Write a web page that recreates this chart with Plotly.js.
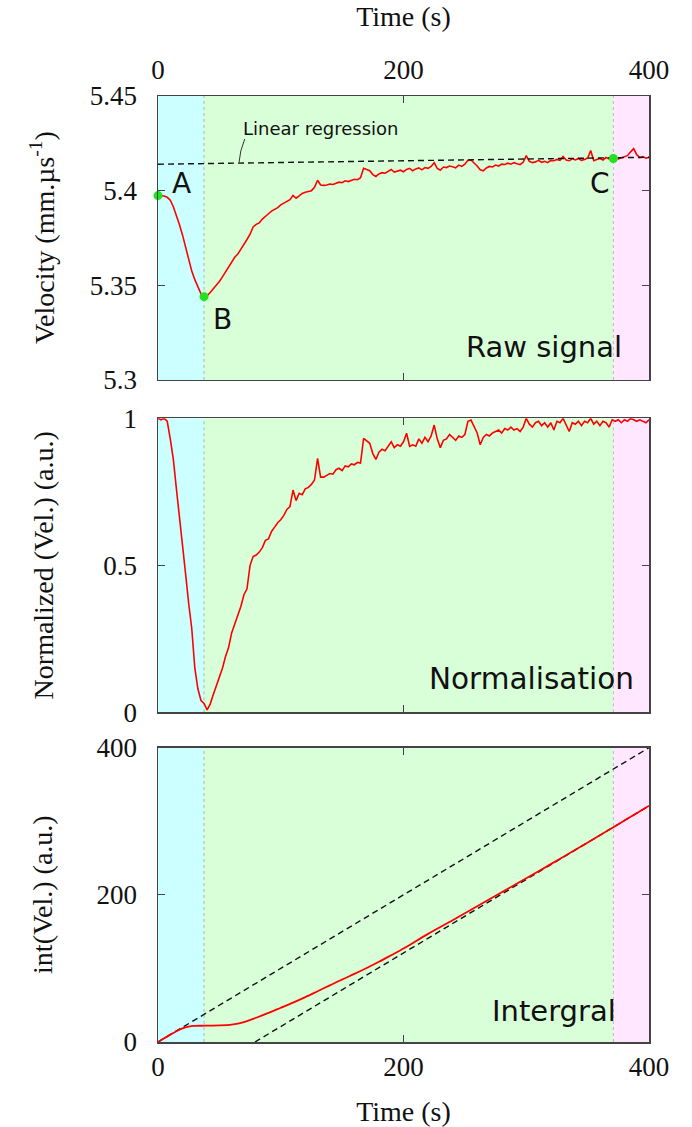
<!DOCTYPE html>
<html>
<head>
<meta charset="utf-8">
<script src="https://cdn.plot.ly/plotly-3.0.1.min.js"></script>
<style>html,body{margin:0;padding:0;background:#fff;}#chart{width:692px;height:1127px;}</style>
</head>
<body>
<div id="chart"></div>
<script>
// ---------- data ----------
// time axis (s) for the raw and normalised signals, 2.5 s step
var timeSignal = [];
for (var i = 0; i <= 160; i++) timeSignal.push(i * 2.5);

// raw velocity (mm/us)
var velocityRaw = [
5.3974,5.3975,5.3972,5.3965,5.3950,5.3915,5.3870,5.3820,5.3765,5.3700,
5.3625,5.3575,5.3530,5.3490,5.3455,5.3440,5.3445,5.3462,5.3480,5.3500,
5.3520,5.3545,5.3572,5.3598,5.3620,5.3648,5.3665,5.3690,5.3712,5.3742,
5.3770,5.3808,5.3822,5.3830,5.3850,5.3862,5.3878,5.3892,5.3902,5.3910,
5.3925,5.3935,5.3942,5.3952,5.3975,5.3960,5.3972,5.3985,5.3992,5.3998,
5.4000,5.4018,5.4055,5.4030,5.4028,5.4030,5.4035,5.4033,5.4040,5.4045,
5.4042,5.4052,5.4048,5.4055,5.4060,5.4058,5.4068,5.4118,5.4110,5.4105,
5.4085,5.4075,5.4088,5.4095,5.4092,5.4100,5.4112,5.4098,5.4104,5.4108,
5.4100,5.4112,5.4118,5.4105,5.4115,5.4120,5.4110,5.4122,5.4118,5.4128,
5.4148,5.4118,5.4108,5.4125,5.4122,5.4130,5.4126,5.4120,5.4135,5.4128,
5.4140,5.4160,5.4162,5.4148,5.4130,5.4110,5.4105,5.4120,5.4128,5.4125,
5.4135,5.4130,5.4140,5.4138,5.4145,5.4140,5.4148,5.4142,5.4138,5.4150,
5.4185,5.4155,5.4148,5.4152,5.4160,5.4150,5.4155,5.4148,5.4160,5.4158,
5.4165,5.4160,5.4180,5.4162,5.4158,5.4168,5.4162,5.4170,5.4160,5.4165,
5.4172,5.4212,5.4158,5.4165,5.4170,5.4162,5.4175,5.4168,5.4170,5.4172,
5.4168,5.4175,5.4180,5.4185,5.4205,5.4222,5.4190,5.4175,5.4180,5.4172,
5.4175
];

// normalised velocity (a.u.)
var velocityNorm = [
1.000,0.995,1.000,0.990,0.930,0.860,0.760,0.670,0.570,0.470,
0.370,0.285,0.150,0.080,0.040,0.030,0.008,0.028,0.060,0.090,
0.120,0.150,0.190,0.220,0.270,0.300,0.330,0.360,0.400,0.420,
0.500,0.530,0.535,0.545,0.560,0.585,0.590,0.615,0.630,0.645,
0.655,0.670,0.690,0.700,0.756,0.720,0.745,0.740,0.760,0.765,
0.775,0.790,0.864,0.800,0.800,0.805,0.812,0.810,0.825,0.830,
0.822,0.838,0.835,0.845,0.842,0.850,0.848,0.932,0.925,0.915,
0.880,0.860,0.885,0.895,0.890,0.905,0.920,0.900,0.910,0.905,
0.920,0.949,0.905,0.910,0.905,0.930,0.915,0.935,0.920,0.940,
0.977,0.930,0.900,0.925,0.930,0.945,0.935,0.925,0.940,0.935,
0.945,0.990,0.994,0.970,0.950,0.910,0.935,0.945,0.940,0.950,
0.955,0.960,0.950,0.965,0.960,0.970,0.960,0.965,0.955,0.970,
1.000,0.980,0.970,0.985,0.990,0.975,0.985,0.970,0.985,0.960,
0.990,0.985,1.000,0.980,0.955,0.985,0.980,0.990,0.975,0.990,
0.985,1.000,0.980,0.990,0.975,0.990,0.985,0.970,0.995,0.990,
0.995,0.985,0.995,0.990,1.000,0.995,0.990,0.995,0.990,0.985,
0.995
];

// integral of the normalised velocity (a.u.)
var timeIntegral = [0,5,10,15,20,25,30,35,40,50,60,70,80,90,100,110,120,130,140,150,160,170,180,190,200,220,240,260,280,300,320,340,360,371,380,390,400];
var velocityIntegral = [0,5,10,14.6,18.5,20.8,21.8,22.1,22.2,22.5,23.6,27,33,39.5,46.5,53.5,61,69,77,85,92.5,100.5,109,118,127,147,165.5,184.5,203.5,222.5,241.8,261.2,281,292,301,311,321];

// linear regression of the stabilised signal
var regressionTime = [0, 400];
var regressionVel = [5.41395, 5.41764];

// reference lines of the integral (slope 1)
var tangentTime = [0, 400];
var tangentValue = [0, 400];
var asymptoteTime = [79, 400];
var asymptoteValue = [0, 321];

// characteristic points A, B, C
var pointLabels = ['A', 'B', 'C'];
var pointTime = [0, 37.5, 371];
var pointVel = [5.3974, 5.3440, 5.4170];

// phase limits (s)
var phaseStart = 0, phaseB = 37.5, phaseC = 371, phaseEnd = 400;

// ---------- plot ----------
var serif = 'Liberation Serif, Times New Roman, serif';
var sans = 'DejaVu Sans, sans-serif';
var axisCol = '#444';

var traces = [
  {x: timeSignal, y: velocityRaw, xaxis: 'x', yaxis: 'y', mode: 'lines',
   line: {color: '#ff0000', width: 1.6}, hoverinfo: 'skip'},
  {x: regressionTime, y: regressionVel, xaxis: 'x', yaxis: 'y', mode: 'lines',
   line: {color: '#111', width: 1.4, dash: '6px,4px'}},
  {x: pointTime, y: pointVel, xaxis: 'x', yaxis: 'y', mode: 'markers', cliponaxis: false,
   marker: {color: '#22e022', size: 9}},
  {x: timeSignal, y: velocityNorm, xaxis: 'x2', yaxis: 'y2', mode: 'lines',
   line: {color: '#ff0000', width: 1.6}},
  {x: tangentTime, y: tangentValue, xaxis: 'x3', yaxis: 'y3', mode: 'lines',
   line: {color: '#111', width: 1.4, dash: '6px,4px'}},
  {x: asymptoteTime, y: asymptoteValue, xaxis: 'x3', yaxis: 'y3', mode: 'lines',
   line: {color: '#111', width: 1.4, dash: '6px,4px'}},
  {x: timeIntegral, y: velocityIntegral, xaxis: 'x3', yaxis: 'y3', mode: 'lines',
   line: {color: '#ff0000', width: 1.8, shape: 'spline', smoothing: 0.8}}
];

var shapes = [];
['y', 'y2', 'y3'].forEach(function (ya, k) {
  var xr = ['x', 'x2', 'x3'][k];
  var yd = ya + ' domain';
  shapes.push({type: 'rect', xref: xr, yref: yd, x0: phaseStart, x1: phaseB, y0: 0, y1: 1,
               fillcolor: '#ccffff', line: {width: 0}, layer: 'below'});
  shapes.push({type: 'rect', xref: xr, yref: yd, x0: phaseB, x1: phaseC, y0: 0, y1: 1,
               fillcolor: '#d9ffd9', line: {width: 0}, layer: 'below'});
  shapes.push({type: 'rect', xref: xr, yref: yd, x0: phaseC, x1: phaseEnd, y0: 0, y1: 1,
               fillcolor: '#ffe8ff', line: {width: 0}, layer: 'below'});
  shapes.push({type: 'line', xref: xr, yref: yd, x0: phaseB, x1: phaseB, y0: 0, y1: 1,
               line: {color: '#a8b8b8', width: 1, dash: 'dot'}, layer: 'below'});
  shapes.push({type: 'line', xref: xr, yref: yd, x0: phaseC, x1: phaseC, y0: 0, y1: 1,
               line: {color: '#c8b0c8', width: 1, dash: 'dot'}, layer: 'below'});
});
// small curved pointer from the "Linear regression" label to the dashed line
shapes.push({type: 'path', xref: 'x', yref: 'y',
             path: 'M66,5.4148 Q66.6,5.4210 70.7,5.4273',
             line: {color: '#333', width: 1}});

function xAxis(extra) {
  var a = {range: [0, 400], dtick: 200, tick0: 0, ticks: 'inside', ticklen: 7, tickwidth: 1.2,
           tickcolor: axisCol, showline: true, linecolor: axisCol, linewidth: 1.5, mirror: 'ticks',
           showgrid: false, zeroline: false, fixedrange: true, ticklabelstandoff: 5,
           tickfont: {family: serif, size: 27, color: '#111'}};
  for (var k in extra) a[k] = extra[k];
  return a;
}
function yAxis(extra) {
  var a = {ticks: 'inside', ticklen: 7, tickwidth: 1.2, tickcolor: axisCol, showline: true,
           linecolor: axisCol, linewidth: 1.5, mirror: 'ticks', showgrid: false, zeroline: false,
           fixedrange: true, ticklabelstandoff: 14,
           tickfont: {family: serif, size: 27, color: '#111'}};
  for (var k in extra) a[k] = extra[k];
  return a;
}

var titleFont = {family: serif, size: 28, color: '#111'};

var annotations = [
  {xref: 'paper', yref: 'paper', x: -0.234, y: 0.85, text: 'Velocity (mm.µs<sup>-1</sup>)',
   textangle: -90, showarrow: false, xanchor: 'center', yanchor: 'middle', font: titleFont},
  {xref: 'paper', yref: 'paper', x: -0.234, y: 0.5039, text: 'Normalized (Vel.) (a.u.)',
   textangle: -90, showarrow: false, xanchor: 'center', yanchor: 'middle', font: titleFont},
  {xref: 'paper', yref: 'paper', x: -0.234, y: 0.1556, text: 'int(Vel.) (a.u.)',
   textangle: -90, showarrow: false, xanchor: 'center', yanchor: 'middle', font: titleFont},
  {xref: 'x domain', yref: 'y domain', x: 0.95, y: 0.116, text: 'Raw signal', showarrow: false,
   xanchor: 'right', yanchor: 'middle', font: {family: sans, size: 29, color: '#111'}},
  {xref: 'x2 domain', yref: 'y2 domain', x: 0.974, y: 0.113, text: 'Normalisation', showarrow: false,
   xanchor: 'right', yanchor: 'middle', font: {family: sans, size: 29.5, color: '#111'}},
  {xref: 'x3 domain', yref: 'y3 domain', x: 0.937, y: 0.106, text: 'Intergral', showarrow: false,
   xanchor: 'right', yanchor: 'middle', font: {family: sans, size: 29, color: '#111'}},
  {xref: 'x', yref: 'y', x: 68, y: 5.4331, text: 'Linear regression', showarrow: false,
   xanchor: 'left', yanchor: 'middle', font: {family: sans, size: 18, color: '#111'}}
];
var labelPos = [[10, 5.4039], [43.3, 5.3322], [350.3, 5.4039]];
pointLabels.forEach(function (lab, k) {
  annotations.push({xref: 'x', yref: 'y', x: labelPos[k][0], y: labelPos[k][1], text: lab,
    showarrow: false, xanchor: 'left', yanchor: 'middle',
    font: {family: sans, size: 28, color: '#111'}});
});

var layout = {
  width: 692, height: 1127,
  margin: {l: 158, r: 43, t: 96, b: 85},
  paper_bgcolor: '#fff', plot_bgcolor: '#fff',
  showlegend: false,
  xaxis: xAxis({anchor: 'y', side: 'top', title: {text: 'Time (s)', font: titleFont, standoff: 20}}),
  xaxis2: xAxis({anchor: 'y2', matches: 'x', showticklabels: false}),
  xaxis3: xAxis({anchor: 'y3', side: 'bottom', ticklabelstandoff: 0,
                 title: {text: 'Time (s)', font: titleFont, standoff: 24}}),
  yaxis: yAxis({domain: [0.6998, 1], range: [5.3, 5.45], dtick: 0.05, tick0: 5.3}),
  yaxis2: yAxis({domain: [0.3485, 0.6593], range: [0, 1], dtick: 0.5, tick0: 0}),
  yaxis3: yAxis({domain: [0, 0.3111], range: [0, 400], dtick: 200, tick0: 0}),
  shapes: shapes,
  annotations: annotations
};

Plotly.newPlot('chart', traces, layout, {displayModeBar: false, staticPlot: true});
</script>
</body>
</html>
